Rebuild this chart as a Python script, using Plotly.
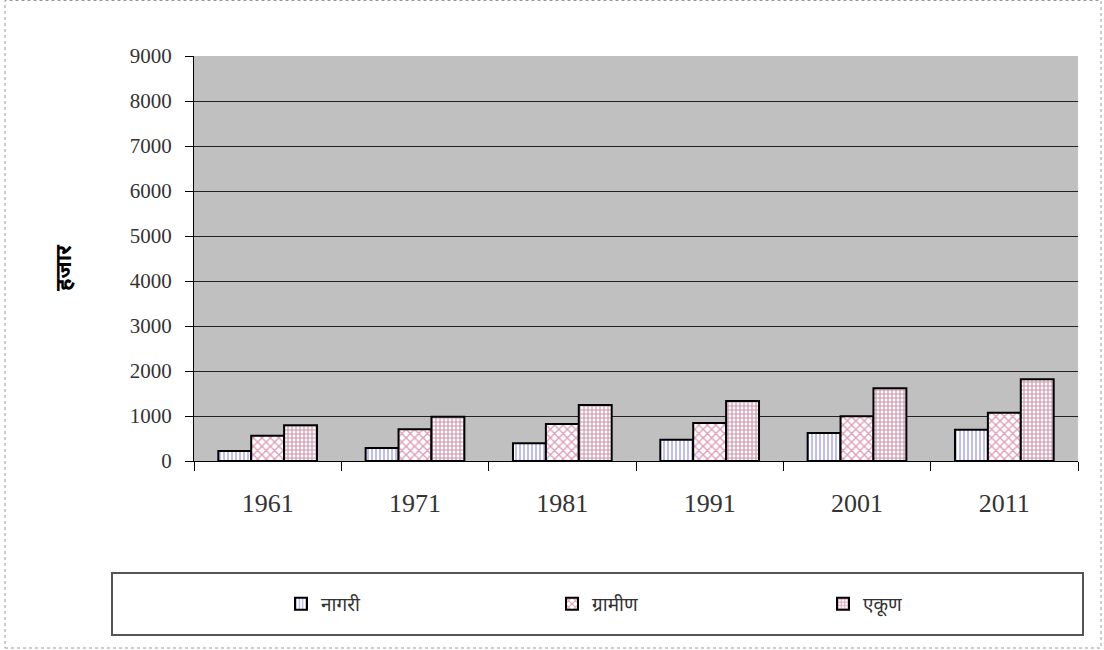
import plotly.graph_objects as go

years = ["1961", "1971", "1981", "1991", "2001", "2011"]
urban = [222, 291, 393, 473, 622, 696]
rural = [562, 704, 822, 844, 993, 1073]
total = [792, 984, 1244, 1333, 1615, 1815]
series_names = ["नागरी", "ग्रामीण", "एकूण"]
y_ticks = [0, 1000, 2000, 3000, 4000, 5000, 6000, 7000, 8000, 9000]
y_title = "हजार"

W, H = 1104, 650
L, R, T, B = 194, 1078, 56, 461  # plot area in pixels
PW, PH = R - L, B - T

def px_x(x):
    return (x - L) / PW

def px_y(y):
    return (B - y) / PH

fig = go.Figure()
fig.add_trace(go.Bar(
    x=years, y=urban, name=series_names[0],
    marker=dict(color="white", line=dict(color="black", width=2),
                pattern=dict(shape="|", fgcolor="#7070e8", bgcolor="white", size=4, solidity=0.45)),
))
fig.add_trace(go.Bar(
    x=years, y=rural, name=series_names[1],
    marker=dict(color="white", line=dict(color="black", width=2),
                pattern=dict(shape="x", fgcolor="#c03a70", bgcolor="white", size=6, solidity=0.4)),
))
fig.add_trace(go.Bar(
    x=years, y=total, name=series_names[2],
    marker=dict(color="white", line=dict(color="black", width=2),
                pattern=dict(shape="+", fgcolor="#a02858", bgcolor="white", size=4, solidity=0.5)),
))

serif = "Liberation Serif"
fig.update_layout(
    width=W, height=H,
    margin=dict(l=L, r=W - R, t=T, b=H - B, autoexpand=False),
    paper_bgcolor="white",
    plot_bgcolor="#c0c0c0",
    barmode="group",
    bargap=0.33,
    bargroupgap=0,
    showlegend=True,
    legend=dict(
        orientation="h", xref="container", yref="container",
        x=281 / W, y=(H - 604) / H, xanchor="left", yanchor="middle",
        entrywidth=226, entrywidthmode="pixels",
        font=dict(family="Noto Sans", size=19, color="#333"),
        bgcolor="rgba(0,0,0,0)",
    ),
    xaxis=dict(
        showline=True, linecolor="black", linewidth=1,
        ticks="outside", tickson="boundaries", ticklen=9, tickcolor="black",
        tickfont=dict(family=serif, size=26, color="#333"),
        ticklabelstandoff=19,
        showgrid=False,
    ),
    yaxis=dict(
        range=[0, 9000], tickvals=y_ticks,
        showline=True, linecolor="black", linewidth=1,
        ticks="outside", ticklen=8, tickcolor="black",
        tickfont=dict(family=serif, size=21, color="#333"),
        ticklabelstandoff=9,
        showgrid=True, gridcolor="#222", gridwidth=1,
        zeroline=False,
    ),
    annotations=[
        dict(text="<b>" + y_title + "</b>", xref="paper", yref="paper",
             x=px_x(62), y=px_y(268), showarrow=False, textangle=-90,
             font=dict(family="Noto Sans", size=22, color="black"),
             xanchor="center", yanchor="middle"),
    ],
    shapes=[
        dict(type="rect", xref="paper", yref="paper",
             x0=px_x(112), x1=px_x(1083), y0=px_y(635), y1=px_y(573),
             line=dict(color="#555", width=2), fillcolor="rgba(0,0,0,0)"),
        dict(type="rect", xref="paper", yref="paper",
             x0=px_x(5), x1=px_x(1101), y0=px_y(648), y1=px_y(0.5),
             line=dict(color="#999", width=1, dash="dot"), fillcolor="rgba(0,0,0,0)"),
    ],
)

fig.write_html("out.html", config={"displayModeBar": False},
               post_script="document.body.style.margin='0';")
